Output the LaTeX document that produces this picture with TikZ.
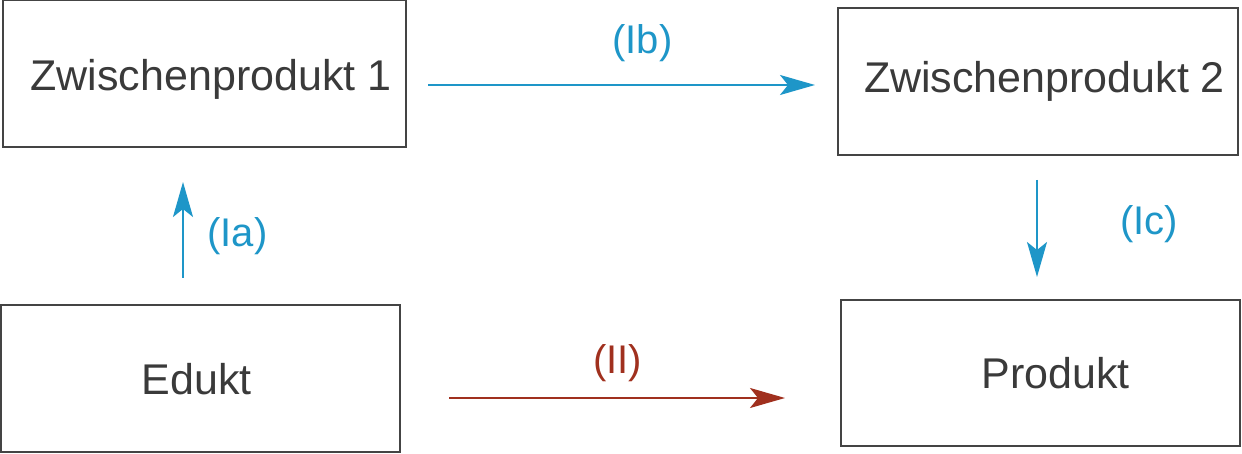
\documentclass[tikz,border=0pt]{standalone}
\usepackage{fontspec}
\setmainfont{Liberation Sans}
\usetikzlibrary{arrows.meta}
\definecolor{flowblue}{HTML}{1E96C8}
\definecolor{flowred}{HTML}{A0301E}
\definecolor{txtgray}{HTML}{3A3A3A}
\definecolor{boxgray}{HTML}{444444}
\begin{document}
\begin{tikzpicture}[x=1pt,y=-1pt,
  box/.style={draw=boxgray, line width=2pt, minimum width=#1, inner sep=0pt},
  boxtext/.style={anchor=base, text=txtgray, font=\fontsize{43}{50}\selectfont, inner sep=0pt},
  lbl/.style={anchor=base, font=\fontsize{40}{46}\selectfont, inner sep=0pt},
  arr/.style={line width=2pt, -{Stealth[length=35pt,width=20pt,inset=8pt]}}
]
\useasboundingbox (0,0) rectangle (1242,454);
% boxes
\node[box=403pt, minimum height=147pt] (z1) at (204.5,74) {};
\node[box=400pt, minimum height=147pt] (z2) at (1038,82) {};
\node[box=399pt, minimum height=147pt] (ed) at (200.5,378.5) {};
\node[box=399pt, minimum height=146pt] (pr) at (1040.5,373) {};
% texts
\node[boxtext] (z1t) at (211,91) {Zwischenprodukt 1};
\node[boxtext] (z2t) at (1044.5,93) {Zwischenprodukt 2};
\node[boxtext] (edt) at (196.5,394) {Edukt};
\node[boxtext] (prt) at (1055.5,388) {Produkt};
% arrow ends
\coordinate (ia1) at (183,278);
\coordinate (ia2) at (183,182);
\coordinate (ib1) at (428,85);
\coordinate (ib2) at (815,85);
\coordinate (ic1) at (1037,180);
\coordinate (ic2) at (1037,277);
\coordinate (ii1) at (449,398);
\coordinate (ii2) at (785,398);
\draw[arr, flowblue] (ia1) -- (ia2);
\draw[arr, flowblue] (ib1) -- (ib2);
\draw[arr, flowblue] (ic1) -- (ic2);
\draw[arr, flowred] (ii1) -- (ii2);
% labels
\node[lbl, text=flowblue] (lia) at (237.5,247) {(Ia)};
\node[lbl, text=flowblue] (lib) at (642.5,54) {(Ib)};
\node[lbl, text=flowblue] (lic) at (1149,235) {(Ic)};
\node[lbl, text=flowred] (lii) at (617.5,373) {(II)};
\end{tikzpicture}
\end{document}
